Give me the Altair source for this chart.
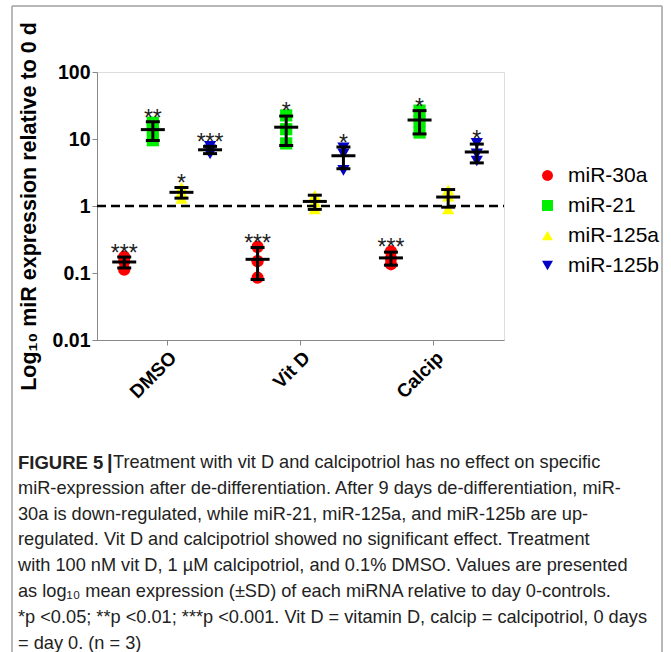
import altair as alt
import pandas as pd

groups = ["DMSO", "Vit D", "Calcip"]
series = ["miR-30a", "miR-21", "miR-125a", "miR-125b"]
colors = ["#ff0000", "#00ee00", "#ffff00", "#0000c8"]
shapes = ["circle", "square", "triangle-up", "triangle-down"]

# order: DMSO (30a, 21, 125a, 125b), Vit D (...), Calcip (...)
rep_1 = [0.112, 9.6, 1.30, 6.0, 0.085, 8.6, 0.90, 3.4, 0.135, 12.5, 0.90, 4.7]
rep_2 = [0.150, 14.2, 1.60, 6.9, 0.150, 14.0, 1.15, 6.0, 0.165, 18.5, 1.40, 6.0]
rep_3 = [0.175, 17.5, 1.90, 7.8, 0.245, 22.5, 1.45, 7.4, 0.210, 26.5, 1.75, 8.6]
means = [0.146, 13.8, 1.60, 6.9, 0.160, 15.0, 1.17, 5.6, 0.168, 19.2, 1.36, 6.4]
sds = [0.027, 4.3, 0.29, 0.85, 0.080, 7.0, 0.28, 2.0, 0.037, 7.3, 0.40, 2.0]
stars = ["***", "**", "*", "***", "***", "*", "", "*", "***", "*", "", "*"]

caption_lines = [
    "miR-expression after de-differentiation. After 9 days de-differentiation, miR-",
    "30a is down-regulated, while miR-21, miR-125a, and miR-125b are up-",
    "regulated. Vit D and calcipotriol showed no significant effect. Treatment",
    "with 100 nM vit D, 1 \u00b5M calcipotriol, and 0.1% DMSO. Values are presented",
    "as log\u2081\u2080 mean expression (\u00b1SD) of each miRNA relative to day 0-controls.",
    "*p <0.05; **p <0.01; ***p <0.001. Vit D = vitamin D, calcip = calcipotriol, 0 days",
    "= day 0. (n = 3)",
]
caption_head = "FIGURE 5"
caption_first = "Treatment with vit D and calcipotriol has no effect on specific"

group_col = [g for g in groups for s in series]
series_col = [s for g in groups for s in series]

pts = pd.DataFrame({
    "group": group_col * 3,
    "series": series_col * 3,
    "value": rep_1 + rep_2 + rep_3,
})
summ = pd.DataFrame({
    "group": group_col,
    "series": series_col,
    "mean": means,
    "sd": sds,
    "star": stars,
    "top": rep_3,
})

W, H = 407, 268
FONT = "Liberation Sans"
TITLE = "Log\u2081\u2080 miR expression relative to 0 d"

xs = alt.Scale(domain=groups, paddingInner=0, paddingOuter=0.026)
xo = alt.XOffset("series:N", scale=alt.Scale(domain=series, paddingInner=0, paddingOuter=0.33))
x_axis = alt.Axis(title=None, labelAngle=-45, labelFontSize=19, labelPadding=3,
                  labelFont=FONT, labelFontWeight="bold", labelColor="black")
X = alt.X("group:N", scale=xs, axis=x_axis)
ys = alt.Scale(type="log", domain=[0.01, 100])
y_axis = alt.Axis(values=[0.01, 0.1, 1, 10, 100], format="~g", grid=False,
                  labelFontSize=19.5, labelPadding=2, labelFont=FONT,
                  labelFontWeight="bold", labelColor="black",
                  titleFontSize=21.5, titleFont=FONT, titleFontWeight="bold",
                  titleX=-68, titleY=H / 2, titleAngle=270,
                  titleAlign="center", titleBaseline="middle", titleColor="black")

def Y(field):
    return alt.Y(field, scale=ys, axis=y_axis, title=TITLE)

legend = alt.Legend(title=None, orient="none", legendX=440, legendY=93,
                    labelFontSize=21, labelFont=FONT, labelFontWeight="normal",
                    labelColor="black",
                    symbolSize=120, labelOffset=10, rowPadding=8, padding=0,
                    symbolStrokeWidth=0)

points = alt.Chart(pts).mark_point(filled=True, size=150, opacity=1).encode(
    x=X, xOffset=xo, y=Y("value:Q"),
    color=alt.Color("series:N", scale=alt.Scale(domain=series, range=colors), legend=legend),
    shape=alt.Shape("series:N", scale=alt.Scale(domain=series, range=shapes), legend=legend),
)

dashed = alt.Chart(pd.DataFrame({"v": [1]})).mark_rule(
    color="black", strokeWidth=2.5, strokeDash=[9, 5]).encode(
    y=Y("v:Q"), x=alt.value(0), x2=alt.value(W))

sbase = alt.Chart(summ).transform_calculate(
    lo="datum.mean - datum.sd", hi="datum.mean + datum.sd",
    anchor="max(datum.mean + datum.sd, datum.top)")

err = sbase.mark_rule(color="black", strokeWidth=3).encode(
    x=X, xOffset=xo, y=Y("lo:Q"), y2="hi:Q")
cap_lo = sbase.mark_tick(color="black", size=14, thickness=3, opacity=1).encode(
    x=X, xOffset=xo, y=Y("lo:Q"))
cap_hi = sbase.mark_tick(color="black", size=14, thickness=3, opacity=1).encode(
    x=X, xOffset=xo, y=Y("hi:Q"))
mean_t = sbase.mark_tick(color="black", size=24, thickness=3, opacity=1).encode(
    x=X, xOffset=xo, y=Y("mean:Q"))
star_t = sbase.mark_text(font=FONT, fontSize=23, baseline="alphabetic", dy=4,
                         color="#222222").encode(
    x=X, xOffset=xo, y=Y("anchor:Q"), text="star:N")

one = pd.DataFrame({"k": [0]})
frame_col = "#a0a0a0"
frame = [
    alt.Chart(one).mark_rule(color=frame_col, strokeWidth=1.5).encode(
        x=alt.value(-85), y=alt.value(-66), y2=alt.value(600)),
    alt.Chart(one).mark_rule(color=frame_col, strokeWidth=1.5).encode(
        x=alt.value(-85), x2=alt.value(565), y=alt.value(-66)),
    alt.Chart(one).mark_rule(color=frame_col, strokeWidth=1.5).encode(
        x=alt.value(565), y=alt.value(-66), y2=alt.value(600)),
]

CAP_FONT = "Liberation Sans"
CAP_SIZE = 18.2
CAP_COL = "#222222"
cap_layers = [
    alt.Chart(one).mark_text(text=caption_head, font=FONT, fontWeight="bold", fontSize=18.5,
                             align="left", baseline="middle", color=CAP_COL).encode(
        x=alt.value(-79), y=alt.value(391)),
    alt.Chart(one).mark_text(text="|", font=FONT, fontWeight="bold", fontSize=20,
                             align="left", baseline="middle", color=CAP_COL).encode(
        x=alt.value(10), y=alt.value(391)),
    alt.Chart(one).mark_text(text=caption_first, font=CAP_FONT, fontSize=CAP_SIZE,
                             align="left", baseline="middle", color=CAP_COL).encode(
        x=alt.value(16), y=alt.value(391)),
]
for i, line in enumerate(caption_lines):
    cap_layers.append(
        alt.Chart(one).mark_text(text=line, font=CAP_FONT, fontSize=CAP_SIZE,
                                 align="left", baseline="middle", color=CAP_COL).encode(
            x=alt.value(-79), y=alt.value(391 + (i + 1) * 25.8)))

chart = alt.layer(points, dashed, err, cap_lo, cap_hi, mean_t, star_t, *frame, *cap_layers).properties(
    width=W, height=H,
    autosize=alt.AutoSizeParams(type="none"),
    padding={"left": 97, "top": 72, "right": 671 - 97 - W, "bottom": 652 - 72 - H},
).configure_view(stroke=None).configure_axis(
    domainWidth=3, domainColor="black", tickWidth=3, tickColor="black", tickSize=8,
).configure(background="white")

chart.save("out.html", embed_options={"renderer": "svg", "actions": False})
